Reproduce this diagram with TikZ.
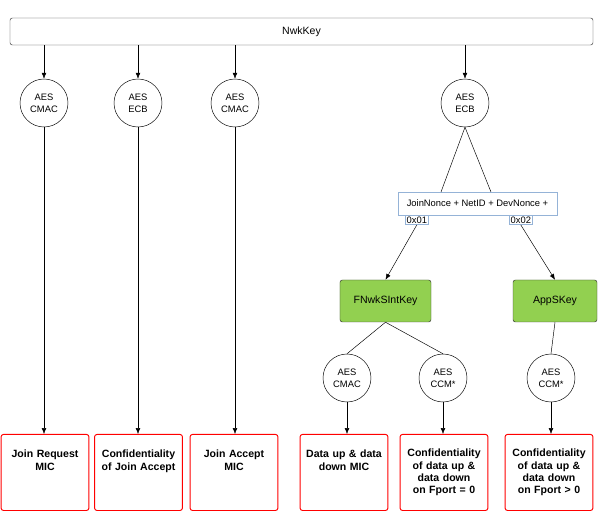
\documentclass[tikz,border=0pt]{standalone}
\usepackage{fontspec}
\setmainfont{Liberation Sans}
\usetikzlibrary{arrows.meta, positioning}
\definecolor{keygreen}{RGB}{146,208,80}
\definecolor{boxblue}{RGB}{149,179,215}
\newcommand{\feed}[2]
{
	\draw[-{Latex[length=5pt,width=4pt]}] (#1) -- (#2)
}
\begin{document}
\begin{tikzpicture}[x=0.03cm, y=-0.03cm,
			aes/.style={shape=circle, draw=black, minimum size=1.44cm, inner sep=0,
				align=center, font=\fontsize{8}{10}\selectfont},
			use/.style={draw=red, thick, rounded corners=2pt, minimum width=2.46cm,
				minimum height=2.28cm, align=center, anchor=north,
				text width=2.4cm, font=\bfseries\fontsize{9}{10.5}\selectfont},
			key/.style={draw=black!80, fill=keygreen, rounded corners=2pt,
				minimum height=1.26cm, font=\fontsize{9}{10}\selectfont},
			blue/.style={draw=boxblue, thick, inner sep=1pt, font=\fontsize{8}{10}\selectfont}]
	\useasboundingbox (0,0) rectangle (603,513);

	\node[draw=black!80, rounded corners=2pt, minimum width=17.49cm, minimum height=0.81cm,
		font=\fontsize{9}{10}\selectfont] at (301.5,31.5) (nwk){NwkKey};

	\node[aes] at (44,103) (c1){AES\\CMAC};
	\node[aes] at (138,103) (c2){AES\\ECB};
	\node[aes] at (235,103) (c3){AES\\CMAC};
	\node[aes] at (465,103) (c4){AES\\ECB};

	\node[use] at (45,434) (r1){Join Request\\MIC\\\mbox{}\\\mbox{}};
	\node[use] at (138.5,434) (r2){Confidentiality of Join Accept\\\mbox{}\\\mbox{}};
	\node[use] at (234,434) (r3){Join Accept\\MIC\\\mbox{}\\\mbox{}};
	\node[use] at (344,434) (r4){Data up \& data down MIC\\\mbox{}\\\mbox{}};
	\node[use] at (444,434) (r5){Confidentiality of data up \& data down on Fport = 0};
	\node[use] at (549,434) (r6){Confidentiality of data up \& data down on Fport > 0};

	\node[blue, minimum width=4.77cm, minimum height=0.69cm] at (477.5,203.5) (mix){JoinNonce + NetID + DevNonce +};
	\node[blue, anchor=north west] at (405,215) (n1){0x01};
	\node[blue, anchor=north west] at (509,215) (n2){0x02};

	\node[key, minimum width=2.73cm] at (385.5,301) (fk){FNwkSIntKey};
	\node[key, minimum width=2.52cm] at (555,301) (ak){AppSKey};

	\node[aes] at (347,378) (c5){AES\\CMAC};
	\node[aes] at (443,378) (c6){AES\\CCM*};
	\node[aes] at (551,378) (c7){AES\\CCM*};

	\coordinate (t1) at (441,192);
	\coordinate (t2) at (491,192);

	\foreach \c in {c1,c2,c3,c4}
		\feed{nwk.south -| \c}{\c.north};
	\foreach \c/\r in {c1/r1,c2/r2,c3/r3,c5/r4,c6/r5,c7/r6}
		\feed{\c.south}{\c.south |- \r.north};
	\draw (c4.south) -- (t1);
	\draw (c4.south) -- (t2);
	\feed{n1.south}{fk.north};
	\feed{n2.south}{ak.north};
	\draw (fk.south) -- (c5.north);
	\draw (fk.south) -- (c6.north);
	\draw (ak.south) -- (c7.north);
\end{tikzpicture}
\end{document}
